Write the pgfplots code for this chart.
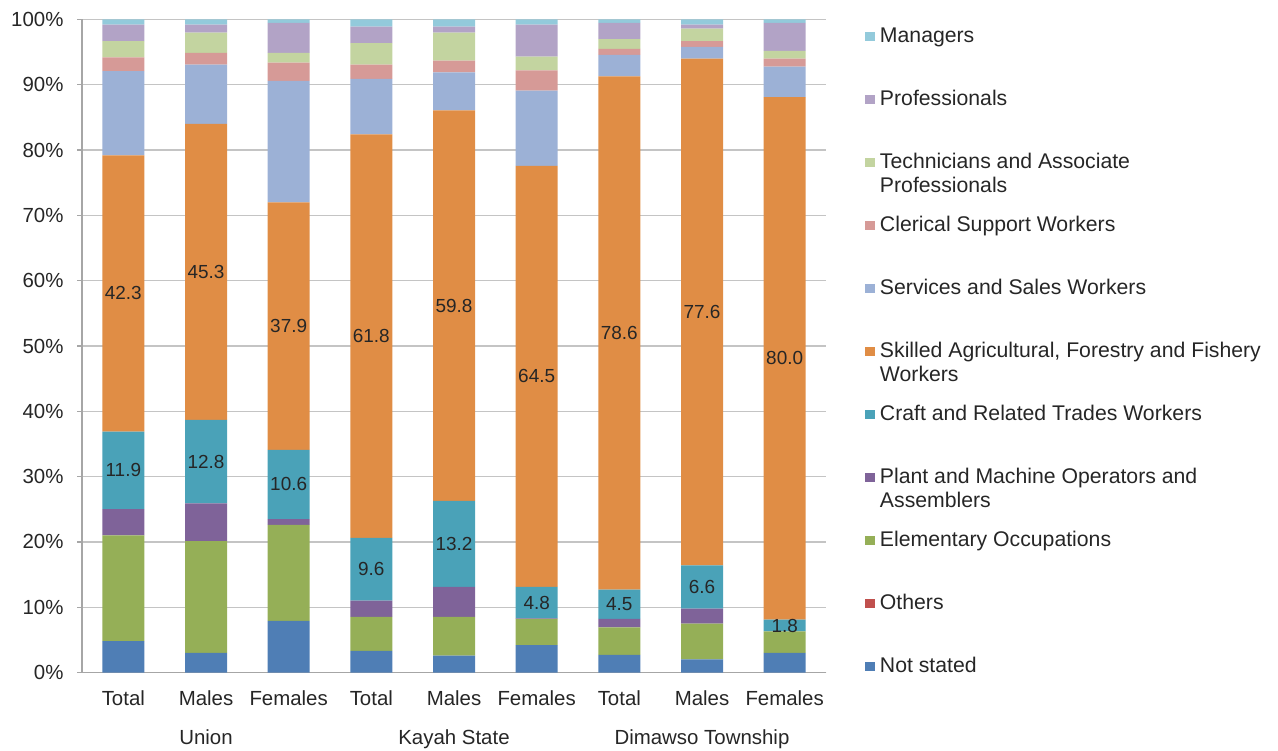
\documentclass[border=0pt]{standalone}
\usepackage{pgfplots}
\pgfplotsset{compat=1.18}
\usepackage{pgfplotstable}
\usepackage{fontspec}
\setmainfont{Liberation Sans}
\definecolor{cNS}{HTML}{4F7EB5}
\definecolor{cOth}{HTML}{C0504D}
\definecolor{cElem}{HTML}{95AF57}
\definecolor{cPlant}{HTML}{7F6399}
\definecolor{cCraft}{HTML}{4AA2B8}
\definecolor{cSkill}{HTML}{E08D45}
\definecolor{cServ}{HTML}{9CB1D6}
\definecolor{cCler}{HTML}{D69A97}
\definecolor{cTech}{HTML}{C3D4A0}
\definecolor{cProf}{HTML}{B2A3C6}
\definecolor{cMan}{HTML}{93CADB}
\definecolor{txt}{HTML}{262626}
\definecolor{gridcol}{HTML}{C4C4C4}
\definecolor{axcol}{HTML}{A6A6A6}
\pgfplotstableread{
x NS Oth Elem Plant Craft Skill Serv Cler Tech Prof Man
0 4.8 0.0 16.2 4.0 11.9 42.3 12.9 2.1 2.5 2.5 0.8
1 3.0 0.0 17.1 5.8 12.8 45.3 9.1 1.8 3.1 1.2 0.8
2 7.9 0.0 14.7 0.9 10.6 37.9 18.6 2.8 1.5 4.6 0.5
3 3.3 0.0 5.2 2.5 9.6 61.8 8.5 2.2 3.3 2.5 1.1
4 2.6 0.0 5.9 4.6 13.2 59.8 5.8 1.8 4.3 0.9 1.1
5 4.2 0.0 4.0 0.1 4.8 64.5 11.5 3.1 2.1 4.9 0.8
6 2.7 0.0 4.2 1.3 4.5 78.6 3.3 0.9 1.5 2.5 0.5
7 2.0 0.0 5.5 2.3 6.6 77.6 1.8 0.9 1.9 0.6 0.8
8 3.0 0.0 3.3 0.0 1.8 80.0 4.7 1.2 1.2 4.3 0.5
}\data
\newcommand\leg[1]{\parbox[t]{395bp}{\fontsize{21.3}{24.5}\selectfont\raggedright\strut #1}}
\begin{document}
\begin{tikzpicture}[font=\fontsize{20.5}{24.5}\selectfont]
\begin{axis}[
  at={(82bp,78.5bp)}, anchor=south west,
  scale only axis, width=744bp, height=653bp,
  ybar stacked, bar width=42bp,
  xmin=-0.5, xmax=8.5, ymin=0, ymax=100,
  axis x line*=bottom, axis y line*=left,
  axis line style={draw=axcol, line width=1.3bp},
  ytick={0,10,...,100},
  yticklabel={\pgfmathprintnumber{\tick}\%},
  yticklabel style={text=txt, xshift=-10bp},
  ymajorgrids, grid style={draw=gridcol, line width=1.3bp},
  tick align=outside, major tick length=5bp,
  tick style={draw=axcol, line width=1.3bp},
  xtick={0,...,8},
  xticklabels={Total,Males,Females,Total,Males,Females,Total,Males,Females},
  major x tick style={draw=none},
  xticklabel style={anchor=base, yshift=-28bp, text=txt},
  extra x ticks={1,4,7},
  extra x tick labels={Union,Kayah State,Dimawso Township},
  extra x tick style={major tick length=5bp, xticklabel style={yshift=-39bp}},
  /pgf/number format/assume math mode=true,
  legend cell align=left,
  reverse legend,
  legend image code/.code={\fill[#1] (0bp,15.5bp) rectangle (10bp,24.5bp);},
  legend style={at={(1.0524,0.9918)}, anchor=north west, draw=none, fill=none,
    inner sep=0pt, outer sep=0pt, row sep=0pt, column sep=5bp,
    nodes={inner sep=0pt, text=txt, text height=17.15bp, text depth=45.85bp}},
]
\addplot[fill=cNS, draw=none] table[x=x,y=NS]{\data};
\addlegendentry{\leg{Not stated}}
\addplot[fill=cOth, draw=none] table[x=x,y=Oth]{\data};
\addlegendentry{\leg{Others}}
\addplot[fill=cElem, draw=none] table[x=x,y=Elem]{\data};
\addlegendentry{\leg{Elementary Occupations}}
\addplot[fill=cPlant, draw=none] table[x=x,y=Plant]{\data};
\addlegendentry{\leg{Plant and Machine Operators and\\Assemblers}}
\addplot[fill=cCraft, draw=none, point meta=explicit,
  nodes near coords={\pgfmathprintnumber[fixed,fixed zerofill,precision=1]{\pgfplotspointmeta}},
  every node near coord/.append style={anchor=center, text=txt, font=\fontsize{19}{22}\selectfont}]
  table[x=x,y=Craft,meta=Craft]{\data};
\addlegendentry{\leg{Craft and Related Trades Workers}}
\addplot[fill=cSkill, draw=none, point meta=explicit,
  nodes near coords={\pgfmathprintnumber[fixed,fixed zerofill,precision=1]{\pgfplotspointmeta}},
  every node near coord/.append style={anchor=center, text=txt, font=\fontsize{19}{22}\selectfont}]
  table[x=x,y=Skill,meta=Skill]{\data};
\addlegendentry{\leg{Skilled Agricultural, Forestry and Fishery\\Workers}}
\addplot[fill=cServ, draw=none] table[x=x,y=Serv]{\data};
\addlegendentry{\leg{Services and Sales Workers}}
\addplot[fill=cCler, draw=none] table[x=x,y=Cler]{\data};
\addlegendentry{\leg{Clerical Support Workers}}
\addplot[fill=cTech, draw=none] table[x=x,y=Tech]{\data};
\addlegendentry{\leg{Technicians and Associate\\Professionals}}
\addplot[fill=cProf, draw=none] table[x=x,y=Prof]{\data};
\addlegendentry{\leg{Professionals}}
\addplot[fill=cMan, draw=none] table[x=x,y=Man]{\data};
\addlegendentry{\leg{Managers}}
\pgfplotsinvokeforeach{0.5,1.5,3.5,4.5,6.5,7.5}{
  \draw[axcol, line width=1.3bp] (axis cs:#1,0) -- ++(0,-40bp);
}
\pgfplotsinvokeforeach{-0.5,2.5,5.5,8.5}{
  \draw[axcol, line width=1.3bp] (axis cs:#1,0) -- ++(0,-85bp);
}
\end{axis}
\pgfresetboundingbox
\path (0,0) rectangle (1278bp,751bp);
\end{tikzpicture}
\end{document}
